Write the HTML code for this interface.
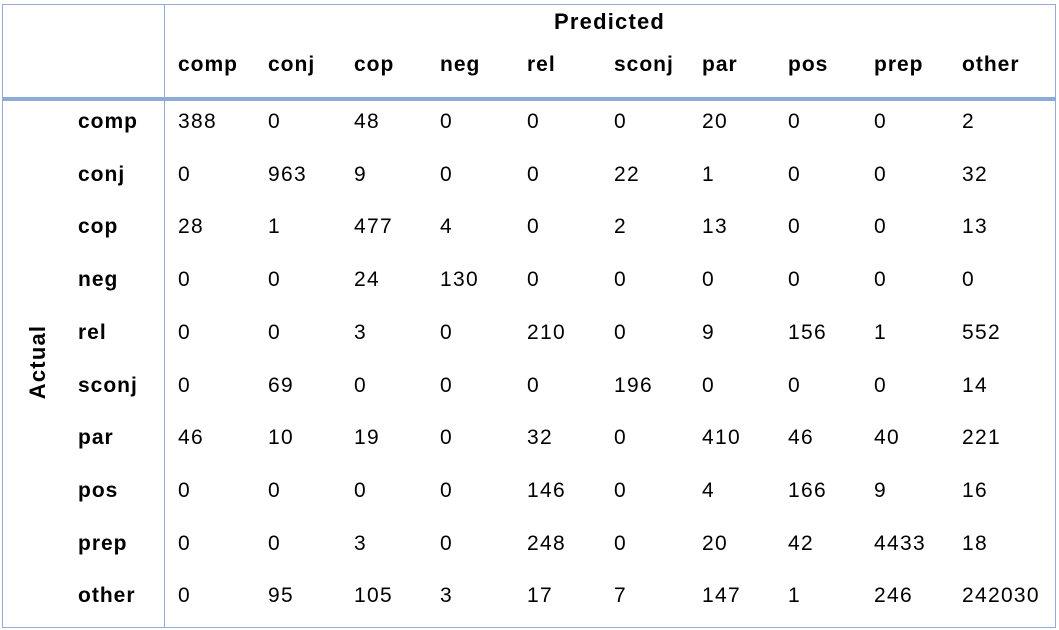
<!DOCTYPE html>
<html><head><meta charset="utf-8"><style>
body{margin:0;width:1059px;height:630px;background:#fff;font-family:"Liberation Sans",sans-serif;position:relative;overflow:hidden}
.t{position:absolute;font-size:21px;color:#000;line-height:1;white-space:nowrap;letter-spacing:1.3px}
.b{font-weight:bold;letter-spacing:1px}
.ln{position:absolute;background:#95abd0}
</style></head><body>
<div class="ln" style="left:2px;top:4px;width:1054px;height:1px"></div>
<div class="ln" style="left:2px;top:627px;width:1054px;height:1px"></div>
<div class="ln" style="left:2px;top:4px;width:1px;height:624px"></div>
<div class="ln" style="left:1055px;top:4px;width:1px;height:624px"></div>
<div class="ln" style="left:164px;top:4px;width:1px;height:624px"></div>
<div class="ln" style="left:2px;top:97px;width:1054px;height:4px;background:#8eaad6"></div>
<div class="t b" style="left:554px;top:11px;font-size:22px;letter-spacing:1.2px">Predicted</div>
<div class="t b" style="left:0px;top:351px;font-size:22px;transform:rotate(-90deg);width:76px;text-align:center;letter-spacing:1.2px">Actual</div>
<div id="tbl"></div>
<script>
const labels=["comp","conj","cop","neg","rel","sconj","par","pos","prep","other"];
const r0=[388,0,48,0,0,0,20,0,0,2];
const r1=[0,963,9,0,0,22,1,0,0,32];
const r2=[28,1,477,4,0,2,13,0,0,13];
const r3=[0,0,24,130,0,0,0,0,0,0];
const r4=[0,0,3,0,210,0,9,156,1,552];
const r5=[0,69,0,0,0,196,0,0,0,14];
const r6=[46,10,19,0,32,0,410,46,40,221];
const r7=[0,0,0,0,146,0,4,166,9,16];
const r8=[0,0,3,0,248,0,20,42,4433,18];
const r9=[0,95,105,3,17,7,147,1,246,242030];
const rows=[r0,r1,r2,r3,r4,r5,r6,r7,r8,r9];
const colX=[178,268,354,440,527,614,702,788,874,962];
const host=document.getElementById('tbl');
function add(txt,x,y,bold,name){const d=document.createElement('div');d.className='t'+(bold?' b':'');d.textContent=txt;d.style.left=x+'px';d.style.top=(y-10)+'px';


host.appendChild(d);}
labels.forEach((l,j)=>add(l,colX[j],64,true,'col-header-'+l));
labels.forEach((l,i)=>{const y=121+i*52.7;add(l,78,y,true,'row-header-'+l);
rows[i].forEach((v,j)=>add(String(v),colX[j],y,false,'cell-'+l+'-'+labels[j]));});
</script>
</body></html>
